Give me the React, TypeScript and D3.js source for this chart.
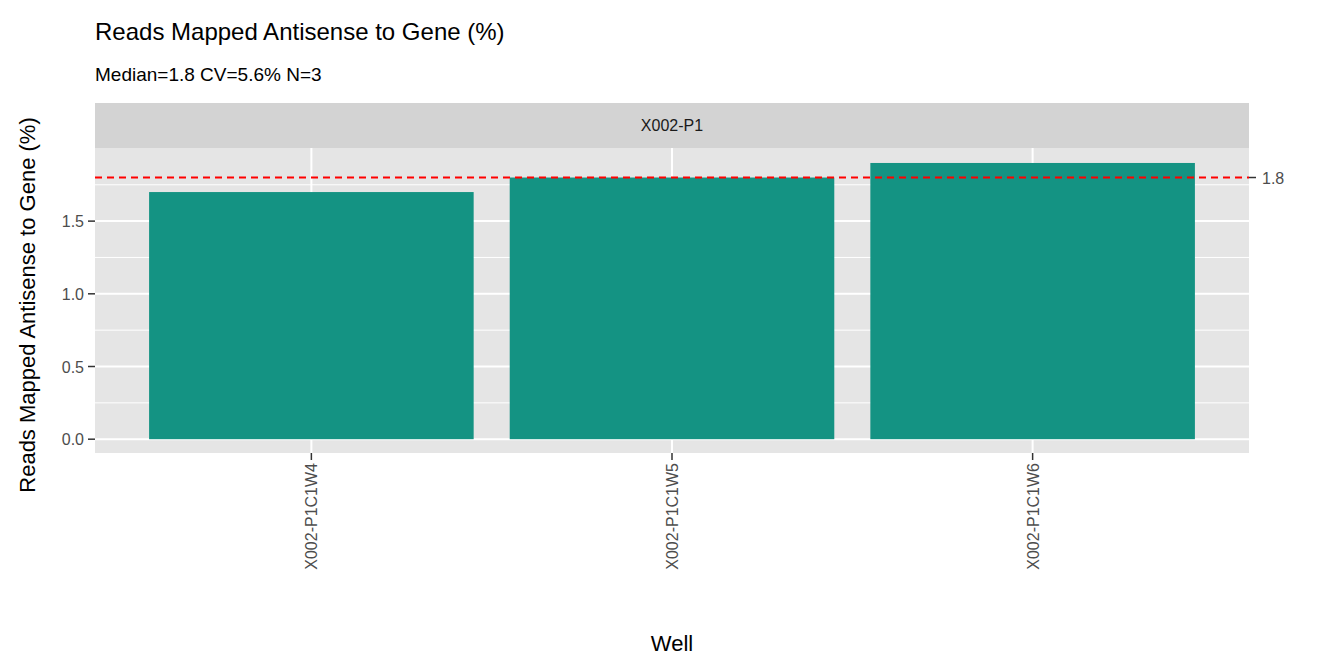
import React from "react";
import * as d3 from "d3";

const wells = ["X002-P1C1W4", "X002-P1C1W5", "X002-P1C1W6"];
const values = [1.7, 1.8, 1.9];
const yTicks = [0, 0.5, 1.0, 1.5];
const median = 1.8;

export default function App() {
  const W = 1344, H = 672;
  const L = 95, R = 1249, T = 148, B = 453;
  const x = d3.scaleLinear().domain([0.4, 3.6]).range([L, R]);
  const y = d3.scaleLinear().domain([-0.095, 2.003]).range([B, T]);
  const bw = 0.9 * (x(2) - x(1));
  const minor = [0.25, 0.75, 1.25, 1.75];
  const font = "Liberation Sans, Arial, sans-serif";
  return (
    <svg width={W} height={H} style={{ position: "absolute", left: 0, top: 0 }} fontFamily={font}>
      <rect width={W} height={H} fill="#fff" />
      <text x={95} y={40} fontSize={24}>Reads Mapped Antisense to Gene (%)</text>
      <text x={95} y={81} fontSize={19}>Median=1.8    CV=5.6%    N=3</text>
      <rect x={L} y={103} width={R - L} height={45} fill="#d3d3d3" />
      <text x={(L + R) / 2} y={131} fontSize={16} textAnchor="middle" fill="#1a1a1a">X002-P1</text>
      <rect x={L} y={T} width={R - L} height={B - T} fill="#e5e5e5" />
      {minor.map(v => <line key={v} x1={L} x2={R} y1={y(v)} y2={y(v)} stroke="#fff" strokeWidth={1} />)}
      {yTicks.map(v => <line key={v} x1={L} x2={R} y1={y(v)} y2={y(v)} stroke="#fff" strokeWidth={2} />)}
      {wells.map((w, i) => <line key={w} x1={x(i + 1)} x2={x(i + 1)} y1={T} y2={B} stroke="#fff" strokeWidth={2} />)}
      {wells.map((w, i) => (
        <rect key={w} x={x(i + 1) - bw / 2} y={y(values[i])} width={bw} height={y(0) - y(values[i])} fill="#149383" />
      ))}
      <line x1={L} x2={R} y1={y(median)} y2={y(median)} stroke="#ff0000" strokeWidth={2} strokeDasharray="7,5" />
      <line x1={R} x2={R + 7} y1={y(median)} y2={y(median)} stroke="#333" strokeWidth={1.5} />
      <text x={R + 13} y={y(median) + 6} fontSize={16} fill="#4d4d4d">1.8</text>
      {yTicks.map(v => (
        <g key={v}>
          <line x1={L - 7} x2={L} y1={y(v)} y2={y(v)} stroke="#333" strokeWidth={1.5} />
          <text x={L - 11} y={y(v) + 6} fontSize={16} textAnchor="end" fill="#4d4d4d">{v.toFixed(1)}</text>
        </g>
      ))}
      {wells.map((w, i) => (
        <g key={w}>
          <line x1={x(i + 1)} x2={x(i + 1)} y1={B} y2={B + 7} stroke="#333" strokeWidth={1.5} />
          <text transform={`translate(${x(i + 1) + 6},${B + 10}) rotate(-90)`} fontSize={16} textAnchor="end" fill="#4d4d4d">{w}</text>
        </g>
      ))}
      <text x={672} y={651} fontSize={22} textAnchor="middle">Well</text>
      <text transform={`translate(35,305) rotate(-90)`} fontSize={22} textAnchor="middle">Reads Mapped Antisense to Gene (%)</text>
    </svg>
  );
}
